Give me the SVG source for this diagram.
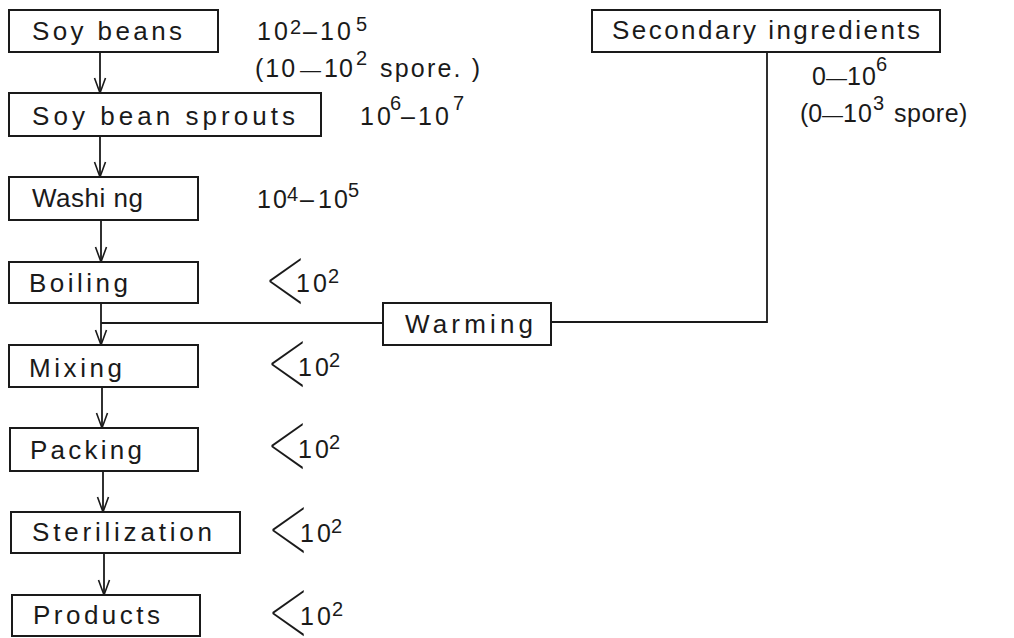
<svg xmlns="http://www.w3.org/2000/svg" width="1014" height="638" viewBox="0 0 1014 638">
<style>
.box{fill:#fff;stroke:#1a1a1a;stroke-width:2}
.lbl{font-family:"Liberation Sans",Arial,sans-serif;font-size:26px;fill:#1a1a1a}
.num{font-family:"Liberation Sans",Arial,sans-serif;font-size:25px;fill:#1a1a1a}
.sup{font-size:20px}
.dash{font-size:21px}
.lt{font-family:Inter,"DejaVu Sans",sans-serif;font-weight:100;font-size:62px;fill:#1a1a1a}
.conn line,.conn polyline{stroke:#1a1a1a;stroke-width:1.8;fill:none}
</style>
<defs>
<marker id="arr" markerUnits="userSpaceOnUse" viewBox="0 0 16 12" markerWidth="16" markerHeight="12" refX="15" refY="6" orient="auto" overflow="visible">
<path d="M0,0.5 L15,6 L0,11.5" fill="none" stroke="#1a1a1a" stroke-width="1.6"/>
</marker>
</defs>
<rect width="1014" height="638" fill="#fff"/>
<g class="conn" id="connectors">
<line x1="100" y1="52" x2="100" y2="93" marker-end="url(#arr)"/>
<line x1="100" y1="136" x2="100" y2="177" marker-end="url(#arr)"/>
<line x1="101" y1="220" x2="101" y2="262" marker-end="url(#arr)"/>
<line x1="101" y1="303" x2="101" y2="345" marker-end="url(#arr)"/>
<line x1="102" y1="387" x2="102" y2="428" marker-end="url(#arr)"/>
<line x1="103" y1="471" x2="103" y2="512" marker-end="url(#arr)"/>
<line x1="104" y1="553" x2="104" y2="595" marker-end="url(#arr)"/>
<polyline points="767,52 767,322 551,322"/>
<line x1="383" y1="323" x2="101" y2="323"/>
</g>
<g id="soybeans"><rect class="box" x="9" y="10" width="209" height="42"/><text class="lbl" x="32" y="40" textLength="150" lengthAdjust="spacing">Soy beans</text></g>
<g id="sprouts"><rect class="box" x="9" y="93" width="312" height="43"/><text class="lbl" x="32" y="125" textLength="263" lengthAdjust="spacing">Soy bean sprouts</text></g>
<g id="washing"><rect class="box" x="9" y="177" width="189" height="43"/><text class="lbl" x="32" y="207" textLength="111" lengthAdjust="spacing">Washi ng</text></g>
<g id="boiling"><rect class="box" x="9" y="262" width="189" height="41"/><text class="lbl" x="29" y="292" textLength="99" lengthAdjust="spacing">Boiling</text></g>
<g id="mixing"><rect class="box" x="9" y="345" width="189" height="42"/><text class="lbl" x="29" y="377" textLength="93" lengthAdjust="spacing">Mixing</text></g>
<g id="packing"><rect class="box" x="10" y="428" width="188" height="43"/><text class="lbl" x="30" y="459" textLength="112" lengthAdjust="spacing">Packing</text></g>
<g id="sterilization"><rect class="box" x="11" y="512" width="229" height="41"/><text class="lbl" x="32" y="541" textLength="180" lengthAdjust="spacing">Sterilization</text></g>
<g id="products"><rect class="box" x="12" y="595" width="188" height="41"/><text class="lbl" x="33" y="624" textLength="127" lengthAdjust="spacing">Products</text></g>
<g id="warming"><rect class="box" x="383" y="303" width="168" height="42"/><text class="lbl" x="405" y="333" textLength="128" lengthAdjust="spacing">Warming</text></g>
<g id="secondary"><rect class="box" x="592" y="10" width="348" height="42"/><text class="lbl" x="612" y="39" textLength="308" lengthAdjust="spacing">Secondary ingredients</text></g>
<g id="counts">
<text class="num" y="40"><tspan x="257" letter-spacing="3">10</tspan><tspan class="sup" x="290" dy="-6">2</tspan><tspan x="303" dy="6">–</tspan><tspan x="320" letter-spacing="3">10</tspan><tspan class="sup" x="356" dy="-9">5</tspan></text>
<text class="num" y="77"><tspan x="255" letter-spacing="2">(10</tspan><tspan class="dash" x="300">—</tspan><tspan x="324" letter-spacing="1">10</tspan><tspan class="sup" x="356" dy="-12">2</tspan><tspan x="380" dy="12" letter-spacing="2.2">spore. )</tspan></text>
<text class="num" y="125"><tspan x="360" letter-spacing="3">10</tspan><tspan class="sup" x="390" dy="-15">6</tspan><tspan x="401" dy="15">–</tspan><tspan x="418" letter-spacing="3">10</tspan><tspan class="sup" x="453" dy="-15">7</tspan></text>
<text class="num" y="208"><tspan x="257" letter-spacing="2">10</tspan><tspan class="sup" x="287" dy="-7">4</tspan><tspan x="300" dy="7">–</tspan><tspan x="318" letter-spacing="2">10</tspan><tspan class="sup" x="348" dy="-11">5</tspan></text>
<text class="num" y="85"><tspan x="812">0</tspan><tspan class="dash" x="826">—</tspan><tspan x="847" letter-spacing="1">10</tspan><tspan class="sup" x="876" dy="-14">6</tspan></text>
<text class="num" y="122"><tspan x="800">(0</tspan><tspan class="dash" x="822">—</tspan><tspan x="843" letter-spacing="1">10</tspan><tspan class="sup" x="873" dy="-12">3</tspan><tspan x="894" dy="12" letter-spacing="0.5">spore)</tspan></text>
<text class="lt" transform="translate(261,306) scale(1.3,1.41)">&lt;</text><text class="num" y="292"><tspan x="296" letter-spacing="3">10</tspan><tspan class="sup" x="328" dy="-9">2</tspan></text>
<text class="lt" transform="translate(263,389) scale(1.3,1.41)">&lt;</text><text class="num" y="376"><tspan x="298" letter-spacing="3">10</tspan><tspan class="sup" x="329" dy="-9">2</tspan></text>
<text class="lt" transform="translate(263,471) scale(1.3,1.41)">&lt;</text><text class="num" y="458"><tspan x="298" letter-spacing="3">10</tspan><tspan class="sup" x="329" dy="-9">2</tspan></text>
<text class="lt" transform="translate(264,555) scale(1.3,1.41)">&lt;</text><text class="num" y="542"><tspan x="300" letter-spacing="3">10</tspan><tspan class="sup" x="331" dy="-9">2</tspan></text>
<text class="lt" transform="translate(264,638) scale(1.3,1.41)">&lt;</text><text class="num" y="625"><tspan x="300" letter-spacing="3">10</tspan><tspan class="sup" x="332" dy="-9">2</tspan></text>
</g>
</svg>
